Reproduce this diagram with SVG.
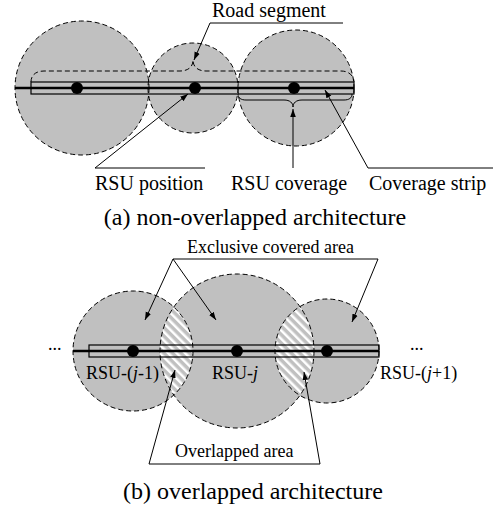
<svg xmlns="http://www.w3.org/2000/svg" width="500" height="510" viewBox="0 0 500 510">
<defs>
<style>
.cov{fill:#c0c0c0;}
.out{fill:none;stroke:#000;stroke-width:1;stroke-dasharray:5 3;}
.road{stroke:#000;stroke-width:2.5;}
.strip{fill:none;stroke:#000;stroke-width:1.2;}
.dot{fill:#000;}
.ln{fill:none;stroke:#000;stroke-width:1;}
.arr{fill:none;stroke:#000;stroke-width:1;marker-end:url(#ah);}
</style>
<marker id="ah" viewBox="0 0 10 10" refX="10" refY="5" markerWidth="8" markerHeight="8" markerUnits="userSpaceOnUse" orient="auto"><path d="M0,1.5 L10,5 L0,8.5 z" fill="#000"/></marker>
<pattern id="hatch" patternUnits="userSpaceOnUse" width="6" height="6" patternTransform="rotate(-45)">
<rect width="6" height="6" fill="#c0c0c0"/>
<rect width="2.5" height="6" fill="#fff"/>
</pattern>
<clipPath id="clipL"><circle cx="133" cy="351" r="60"/></clipPath>
<clipPath id="clipR"><circle cx="327" cy="351" r="52"/></clipPath>
</defs>

<!-- (a) non-overlapped -->
<g id="a-coverage">
<circle class="cov" cx="82" cy="88" r="67"/>
<circle class="cov" cx="193" cy="88" r="45"/>
<circle class="cov" cx="296" cy="88" r="58"/>
<circle class="out" cx="82" cy="88" r="67"/>
<circle class="out" cx="193" cy="88" r="45"/>
<circle class="out" cx="296" cy="88" r="58"/>
</g>
<g id="a-road">
<line class="road" x1="15" y1="88" x2="354" y2="88"/>
<rect class="strip" x="31" y="82" width="323" height="12"/>
</g>
<g id="a-rsu1"><circle class="dot" cx="77" cy="88" r="6"/></g>
<g id="a-rsu2"><circle class="dot" cx="195" cy="88" r="6"/></g>
<g id="a-rsu3"><circle class="dot" cx="294" cy="88" r="6"/></g>
<g id="a-braces">
<path class="ln" style="stroke-dasharray:5 3" d="M31,82 C31,75 36,71 44,71 L180,71 C188,71 193,67 193,60 C193,67 198,71 206,71 L341,71 C349,71 354,76 354,82"/>
<path class="ln" d="M238,94 C238,98 241,100 246,100 L284,100 C290,100 293,103 293,107 C293,103 296,100 302,100 L344,100 C349,100 352,98 352,94"/>
</g>
<g id="a-connectors">
<path class="ln" d="M210,23 L343,23"/>
<path class="arr" d="M210,23 L194,60"/>
<path class="ln" d="M95,168 L205,168"/>
<path class="arr" d="M95,168 L188,94"/>
<path class="arr" d="M293,168 L293,109"/>
<path class="ln" d="M368,168 L493,168"/>
<path class="arr" d="M368,168 L325,90"/>
</g>
<g id="a-labels" font-family="'Liberation Serif', 'Times New Roman', serif" font-size="20" fill="#000">
<text x="212" y="17">Road segment</text>
<text x="95" y="190">RSU position</text>
<text x="231" y="190">RSU coverage</text>
<text x="369" y="190">Coverage strip</text>
<text x="255" y="225" font-size="24" text-anchor="middle">(a) non-overlapped architecture</text>
</g>

<!-- (b) overlapped -->
<g id="b-coverage">
<circle class="cov" cx="133" cy="351" r="60"/>
<circle class="cov" cx="327" cy="351" r="52"/>
<circle class="cov" cx="237" cy="351" r="77"/>
<circle fill="url(#hatch)" cx="237" cy="351" r="77" clip-path="url(#clipL)"/>
<circle fill="url(#hatch)" cx="237" cy="351" r="77" clip-path="url(#clipR)"/>
<circle class="out" cx="133" cy="351" r="60"/>
<circle class="out" cx="327" cy="351" r="52"/>
<circle class="out" cx="237" cy="351" r="77"/>
</g>
<g id="b-road">
<line class="road" x1="73" y1="351" x2="379" y2="351"/>
<rect class="strip" x="89" y="345" width="290" height="12"/>
</g>
<g font-family="'Liberation Serif', 'Times New Roman', serif" font-size="18" fill="#000">
<g id="b-rsu-j-1"><circle class="dot" cx="133" cy="351" r="6"/><text x="86" y="379">RSU-(<tspan font-style="italic">j</tspan>-1)</text></g>
<g id="b-rsu-j"><circle class="dot" cx="237" cy="351" r="6"/><text x="212" y="379">RSU-<tspan font-style="italic">j</tspan></text></g>
<g id="b-rsu-j+1"><circle class="dot" cx="327" cy="351" r="6"/><text x="380" y="379">RSU-(<tspan font-style="italic">j</tspan>+1)</text></g>
</g>
<g id="b-connectors">
<path class="ln" d="M173,259 L378,259"/>
<path class="arr" d="M173,259 L145,320"/>
<path class="arr" d="M173,259 L216,320"/>
<path class="arr" d="M378,259 L352,322"/>
<path class="ln" d="M149,464 L320,464"/>
<path class="arr" d="M149,464 L175,370"/>
<path class="arr" d="M320,464 L304,372"/>
</g>
<g id="b-labels" font-family="'Liberation Serif', 'Times New Roman', serif" font-size="18" fill="#000">
<text x="48" y="350">...</text>
<text x="410" y="350">...</text>
<text x="187" y="253">Exclusive covered area</text>
<text x="175" y="457">Overlapped area</text>
<text x="253" y="499" font-size="24" text-anchor="middle">(b) overlapped architecture</text>
</g>
</svg>
